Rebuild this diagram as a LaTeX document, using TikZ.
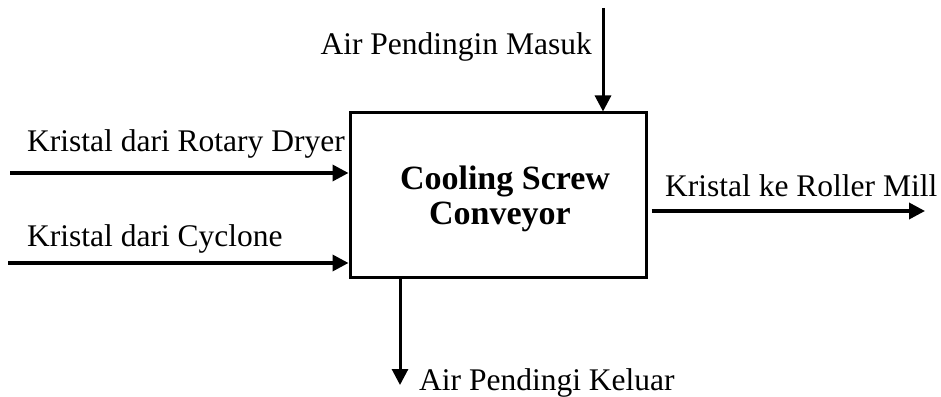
\documentclass[tikz,border=0pt]{standalone}
\usepackage{fontspec}
\setmainfont{Liberation Serif}
\usetikzlibrary{arrows.meta}
\begin{document}
\begin{tikzpicture}[x=1pt,y=1pt,
  lbl/.style={font=\fontsize{31.5}{36}\selectfont, inner sep=0pt},
  ttl/.style={font=\fontsize{34}{35}\selectfont\bfseries, inner sep=0pt, anchor=base},
  flow/.style={line width=3.5pt, -{Triangle[length=16pt,width=16pt]}},
  boxstyle/.style={draw, line width=3pt, minimum width=296pt, minimum height=165pt, inner sep=0pt}]
\useasboundingbox (0,0) rectangle (941,396);
\node[boxstyle] (box) at (498,200.5) {};
\node[ttl] (title1) at (505,206) {Cooling Screw};
\node[ttl] (title2) at (500,171) {Conveyor};
% free ends
\coordinate (inA) at (10,223);
\coordinate (inB) at (8,133);
\coordinate (inTop) at (603,388);
\coordinate (outR) at (925,185);
\coordinate (outB) at (400,11);
% connectors
\draw[flow] (inA) -- (inA -| box.west);
\draw[flow] (inB) -- (inB -| box.west);
\draw[flow, line width=3pt] (inTop) -- (inTop |- box.north);
\draw[flow] ([xshift=4pt]box.east |- outR) -- (outR);
\draw[flow, line width=3pt] (outB |- box.south) -- (outB);
% labels
\node[lbl, anchor=base east] (tTop) at (592,341) {Air Pendingin Masuk};
\node[lbl, anchor=base west] (tA) at (27,244) {Kristal dari Rotary Dryer};
\node[lbl, anchor=base west] (tB) at (27,149) {Kristal dari Cyclone};
\node[lbl, anchor=base west] (tR) at (665,199) {Kristal ke Roller Mill};
\node[lbl, anchor=base west] (tBot) at (419,6) {Air Pendingi Keluar};
\end{tikzpicture}
\end{document}
